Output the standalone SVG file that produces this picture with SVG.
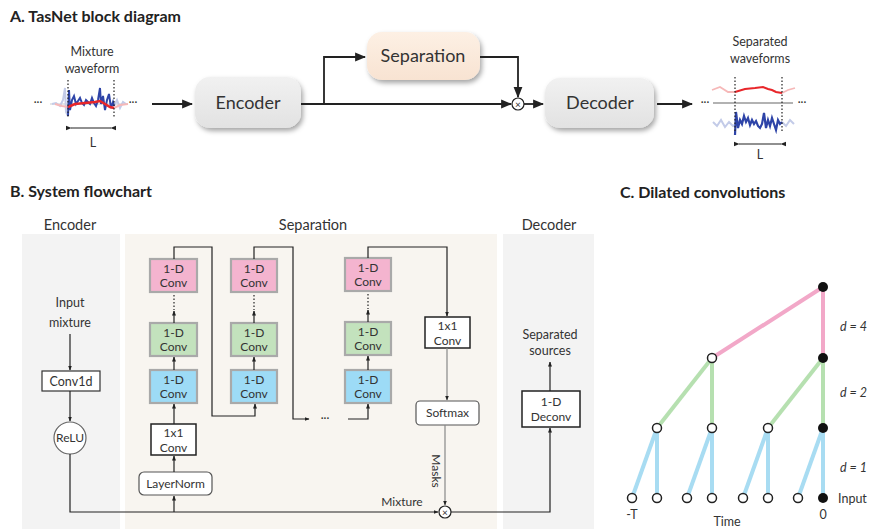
<svg xmlns="http://www.w3.org/2000/svg" width="871" height="529" viewBox="0 0 871 529">
<defs>
<marker id="ah" viewBox="0 0 10 10" refX="9" refY="5" markerWidth="7" markerHeight="7" orient="auto" markerUnits="userSpaceOnUse"><path d="M0,1 L10,5 L0,9 z" fill="#222"/></marker>
<marker id="ahs" viewBox="0 0 10 10" refX="9" refY="5" markerWidth="5" markerHeight="5" orient="auto" markerUnits="userSpaceOnUse"><path d="M0,1 L10,5 L0,9 z" fill="#222"/></marker>
<marker id="ahb" viewBox="0 0 10 10" refX="9" refY="5" markerWidth="11" markerHeight="11" orient="auto" markerUnits="userSpaceOnUse"><path d="M0,1 L10,5 L0,9 z" fill="#222"/></marker>
<marker id="ahd" viewBox="0 0 10 10" refX="1" refY="5" markerWidth="6" markerHeight="6" orient="auto-start-reverse" markerUnits="userSpaceOnUse"><path d="M0,5 L10,1 L10,9 z" fill="#222"/></marker>
<linearGradient id="gG" x1="0" y1="0" x2="0" y2="1"><stop offset="0" stop-color="#f1f1f1"/><stop offset="1" stop-color="#e2e2e2"/></linearGradient>
<linearGradient id="gP" x1="0" y1="0" x2="0" y2="1"><stop offset="0" stop-color="#fdf0e4"/><stop offset="1" stop-color="#f8e3d2"/></linearGradient>
<filter id="sh" x="-20%" y="-20%" width="150%" height="160%"><feDropShadow dx="2" dy="3" stdDeviation="2.5" flood-color="#000" flood-opacity="0.35"/></filter>
</defs>
<style>
text{font-family:Lato,"Open Sans",sans-serif;fill:#333}
.title{font-weight:bold;font-size:16px;fill:#222}
.big{font-size:18px;text-anchor:middle;fill:#333}
.lab{font-size:12.5px;text-anchor:middle}
.cv{font-size:12px;text-anchor:middle}
.sm{font-size:12px;text-anchor:middle}
.ln{stroke:#222;stroke-width:1.2;fill:none}
.lnA{stroke:#222;stroke-width:1.8;fill:none}
.conv{stroke:#a9a9a9;stroke-width:2.2}
.pink{fill:#f4b4cf}.green{fill:#c3e2bd}.blue{fill:#9ddbf6}
.wbox{fill:#fff;stroke:#222;stroke-width:1.5}
.dot{stroke:#222;stroke-width:1.2;stroke-dasharray:1.5 2}
.edgeB{stroke:#a8dcf2;stroke-width:4}
.edgeG{stroke:#b6e0b0;stroke-width:4}
.edgeP{stroke:#f2a8c8;stroke-width:4}
.on{fill:#fff;stroke:#222;stroke-width:1.5}
.fn{fill:#111}
.ital{font-style:italic;font-size:12.5px}
</style>

<!-- Part A -->
<text class="title" x="10" y="22">A. TasNet block diagram</text>
<g id="mixture-waveform">
<text class="lab" x="92" y="56">Mixture</text>
<text class="lab" x="92" y="73">waveform</text>
<text x="38" y="106" font-size="11" text-anchor="middle" fill="#444">···</text>
<text x="133" y="106" font-size="11" text-anchor="middle" fill="#444">···</text>
<line x1="50" y1="104" x2="128" y2="104" stroke="#ccc" stroke-width="1.2"/>
<polyline fill="none" stroke="#c3cbe8" stroke-width="2" points="52,104 56,103 60,106 63,100 65,88 66,112 68,116"/>
<polyline fill="none" stroke="#c3cbe8" stroke-width="2" points="114,106 117,100 120,108 123,102 126,104"/>
<polyline fill="none" stroke="#f6b8b8" stroke-width="2" points="55,104 62,106 68,107"/>
<polyline fill="none" stroke="#f6b8b8" stroke-width="2" points="114,108 120,105 128,104"/>
<polyline fill="none" stroke="#2e44a8" stroke-width="2" points="68,116 69,90 70,110 72,100 74,96 76,104 78,101 80,98 82,103 84,105 86,100 88,102 90,104 92,98 94,103 96,106 98,100 100,88 101,104 103,96 105,110 107,100 109,94 111,108 113,102 114,106"/>
<polyline fill="none" stroke="#e8262a" stroke-width="2.6" points="68,107 75,104 85,103 95,102 100,101 105,104 110,107 114,108"/>
<line class="dot" x1="68" y1="80" x2="68" y2="118"/>
<line class="dot" x1="114" y1="80" x2="114" y2="118"/>
<line x1="71" y1="128" x2="111" y2="128" stroke="#222" stroke-width="1.2" marker-start="url(#ahd)" marker-end="url(#ahd)"/>
<text class="lab" x="93" y="147" font-size="14">L</text>
</g>
<g id="encA">
<rect x="195" y="77" width="106" height="51" rx="15" fill="url(#gG)" filter="url(#sh)"/>
<text class="big" x="248" y="109">Encoder</text>
</g>
<g id="sepA">
<rect x="367" y="32" width="113" height="48" rx="15" fill="url(#gP)" filter="url(#sh)"/>
<text class="big" x="423" y="62">Separation</text>
</g>
<g id="mulA">
<circle cx="518" cy="104" r="6" fill="#fff" stroke="#222" stroke-width="1.2"/>
<text x="518" y="107.5" font-size="10" text-anchor="middle" fill="#222">×</text>
</g>
<g id="decA">
<rect x="545" y="78" width="109" height="50" rx="15" fill="url(#gG)" filter="url(#sh)"/>
<text class="big" x="600" y="109">Decoder</text>
</g>
<g id="sep-waveforms">
<text class="lab" x="760" y="46">Separated</text>
<text class="lab" x="760" y="63">waveforms</text>
<text x="705" y="106" font-size="11" text-anchor="middle" fill="#444">···</text>
<text x="802" y="106" font-size="11" text-anchor="middle" fill="#444">···</text>
<line x1="713" y1="103" x2="793" y2="103" stroke="#999" stroke-width="1.4"/>
<polyline fill="none" stroke="#f6b8b8" stroke-width="1.8" points="712,90 720,87 728,92 735,92"/>
<polyline fill="none" stroke="#f6b8b8" stroke-width="1.8" points="782,93 788,90 795,88"/>
<polyline fill="none" stroke="#e8262a" stroke-width="2" points="735,92 745,89 755,88 763,87 768,89 772,90 776,92 782,93"/>
<polyline fill="none" stroke="#c3cbe8" stroke-width="2" points="713,122 717,126 721,120 725,127 729,122 733,126 735,125"/>
<polyline fill="none" stroke="#c3cbe8" stroke-width="2" points="782,122 786,126 790,120 794,124"/>
<polyline fill="none" stroke="#2e44a8" stroke-width="2.2" points="735,135 736,112 738,128 740,120 742,124 744,116 746,122 748,118 750,125 752,120 754,124 756,121 758,126 760,128 762,124 764,113 766,128 768,120 770,126 772,118 774,124 776,130 778,120 780,124 782,122"/>
<line class="dot" x1="735" y1="77" x2="735" y2="131"/>
<line class="dot" x1="782" y1="77" x2="782" y2="131"/>
<line x1="739" y1="144" x2="781" y2="144" stroke="#222" stroke-width="1.2" marker-start="url(#ahd)" marker-end="url(#ahd)"/>
<text class="lab" x="760" y="159" font-size="14">L</text>
</g>
<g id="connectorsA">
<line class="lnA" x1="152" y1="104" x2="192" y2="104" marker-end="url(#ahb)"/>
<line class="lnA" x1="301" y1="104" x2="511" y2="104" marker-end="url(#ahb)"/>
<polyline class="lnA" points="324,104 324,57 365,57" marker-end="url(#ahb)"/>
<polyline class="lnA" points="480,57 518,57 518,97" marker-end="url(#ahb)"/>
<line class="lnA" x1="524" y1="104" x2="543" y2="104" marker-end="url(#ahb)"/>
<line class="lnA" x1="657" y1="104" x2="692" y2="104" marker-end="url(#ahb)"/>
</g>

<!-- Part B -->
<text class="title" x="10" y="197">B. System flowchart</text>
<g id="panels">
<rect x="22" y="234" width="98" height="295" fill="#f3f3f3"/>
<rect x="125" y="234" width="372" height="295" fill="#f8f5f0"/>
<rect x="503" y="234" width="91" height="295" fill="#f3f3f3"/>
<text x="70" y="230" font-size="14.5" text-anchor="middle">Encoder</text>
<text x="313" y="230" font-size="14.5" text-anchor="middle">Separation</text>
<text x="549" y="230" font-size="14.5" text-anchor="middle">Decoder</text>
</g>
<g id="input-mixture">
<text class="lab" x="70" y="307">Input</text>
<text class="lab" x="70" y="327">mixture</text>
</g>
<g id="conv1d">
<rect x="42" y="371" width="58" height="20" fill="#fff" stroke="#333" stroke-width="1.2"/>
<text x="71" y="385.5" font-family="'Liberation Mono','DejaVu Sans Mono',monospace" font-size="12.5" text-anchor="middle">Conv1d</text>
</g>
<g id="relu">
<circle cx="70" cy="438" r="16" fill="#fff" stroke="#666" stroke-width="1.2"/>
<text class="sm" x="70" y="442">ReLU</text>
</g>
<g id="c1pink"><rect class="conv pink" x="150" y="259" width="47" height="33"/><text class="cv" x="173.5" y="272.5">1-D</text><text class="cv" x="173.5" y="287">Conv</text></g>
<g id="c1green"><rect class="conv green" x="150" y="323" width="47" height="33"/><text class="cv" x="173.5" y="336.5">1-D</text><text class="cv" x="173.5" y="351">Conv</text></g>
<g id="c1blue"><rect class="conv blue" x="150" y="370" width="47" height="33"/><text class="cv" x="173.5" y="383.5">1-D</text><text class="cv" x="173.5" y="398">Conv</text></g>
<g id="c2pink"><rect class="conv pink" x="231" y="259" width="46" height="33"/><text class="cv" x="254" y="272.5">1-D</text><text class="cv" x="254" y="287">Conv</text></g>
<g id="c2green"><rect class="conv green" x="231" y="323" width="46" height="33"/><text class="cv" x="254" y="336.5">1-D</text><text class="cv" x="254" y="351">Conv</text></g>
<g id="c2blue"><rect class="conv blue" x="231" y="370" width="46" height="33"/><text class="cv" x="254" y="383.5">1-D</text><text class="cv" x="254" y="398">Conv</text></g>
<g id="c3pink"><rect class="conv pink" x="345" y="258" width="46" height="33"/><text class="cv" x="368" y="271.5">1-D</text><text class="cv" x="368" y="286">Conv</text></g>
<g id="c3green"><rect class="conv green" x="345" y="322" width="46" height="33"/><text class="cv" x="368" y="335.5">1-D</text><text class="cv" x="368" y="350">Conv</text></g>
<g id="c3blue"><rect class="conv blue" x="345" y="370" width="46" height="33"/><text class="cv" x="368" y="383.5">1-D</text><text class="cv" x="368" y="398">Conv</text></g>
<g id="conv1x1a"><rect class="wbox" x="151" y="424" width="45" height="31"/><text class="cv" x="173.5" y="437">1x1</text><text class="cv" x="173.5" y="451.5">Conv</text></g>
<g id="layernorm"><rect x="139" y="472" width="73" height="23" rx="5" fill="#fff" stroke="#555" stroke-width="1.2"/><text class="sm" x="175.5" y="488">LayerNorm</text></g>
<g id="conv1x1b"><rect class="wbox" x="425" y="317" width="45" height="31"/><text class="cv" x="447.5" y="330">1x1</text><text class="cv" x="447.5" y="344.5">Conv</text></g>
<g id="softmax"><rect x="416" y="401" width="63" height="24" rx="4" fill="#fff" stroke="#555" stroke-width="1.2"/><text class="sm" x="447.5" y="417">Softmax</text></g>
<g id="mulB">
<circle cx="445" cy="512" r="6" fill="#fff" stroke="#222" stroke-width="1.2"/>
<text x="445" y="515.5" font-size="10" text-anchor="middle" fill="#222">×</text>
</g>
<g id="deconv"><rect class="wbox" x="522" y="391" width="58" height="36" stroke-width="1.2"/><text class="cv" x="551" y="405.5">1-D</text><text class="cv" x="551" y="421">Deconv</text></g>
<g id="sep-sources">
<text class="lab" x="550" y="339">Separated</text>
<text class="lab" x="550" y="355">sources</text>
</g>
<g id="connectorsB">
<line class="ln" x1="70" y1="334" x2="70" y2="370" marker-end="url(#ahs)"/>
<line class="ln" x1="70" y1="391" x2="70" y2="421" marker-end="url(#ahs)"/>
<polyline class="ln" points="70,454 70,512 438,512" marker-end="url(#ahs)"/>
<line class="ln" x1="174" y1="512" x2="174" y2="496" marker-end="url(#ahs)"/>
<line class="ln" x1="174" y1="472" x2="174" y2="456" marker-end="url(#ahs)"/>
<line class="ln" x1="174" y1="424" x2="174" y2="404" marker-end="url(#ahs)"/>
<line class="ln" x1="174" y1="370" x2="174" y2="357" marker-end="url(#ahs)"/>
<line class="ln" x1="174" y1="323" x2="174" y2="311" marker-end="url(#ahs)"/>
<line class="dot" x1="174" y1="295" x2="174" y2="310"/>
<line class="ln" x1="254" y1="370" x2="254" y2="357" marker-end="url(#ahs)"/>
<line class="ln" x1="254" y1="323" x2="254" y2="311" marker-end="url(#ahs)"/>
<line class="dot" x1="254" y1="295" x2="254" y2="310"/>
<line class="ln" x1="368" y1="370" x2="368" y2="356" marker-end="url(#ahs)"/>
<line class="ln" x1="368" y1="322" x2="368" y2="310" marker-end="url(#ahs)"/>
<line class="dot" x1="368" y1="294" x2="368" y2="309"/>
<polyline class="ln" points="174,259 174,247 212,247 212,416 255,416 255,404" marker-end="url(#ahs)"/>
<polyline class="ln" points="254,259 254,247 293,247 293,419 309,419" marker-end="url(#ahs)"/>
<text x="325" y="422" font-size="11" text-anchor="middle" fill="#333">···</text>
<polyline class="ln" points="348,419 368,419 368,404" marker-end="url(#ahs)"/>
<polyline class="ln" points="368,258 368,247 447,247 447,316" marker-end="url(#ahs)"/>
<line x1="447" y1="348" x2="447" y2="400" stroke="#888" stroke-width="1.2" marker-end="url(#ahs)"/>
<line x1="445" y1="425" x2="445" y2="505" stroke="#888" stroke-width="1.2" marker-end="url(#ahs)"/>
<text class="sm" x="0" y="0" transform="translate(432,471) rotate(90)" font-size="11.5">Masks</text>
<text class="sm" x="402" y="506">Mixture</text>
<polyline class="ln" points="451,512 550,512 550,428" marker-end="url(#ahs)"/>
<line class="ln" x1="550" y1="391" x2="550" y2="362" marker-end="url(#ahs)"/>
</g>

<!-- Part C -->
<text class="title" x="620" y="198">C. Dilated convolutions</text>
<g id="edgesC">
<line class="edgeB" x1="632" y1="498" x2="657" y2="428"/>
<line class="edgeB" x1="657" y1="498" x2="657" y2="428"/>
<line class="edgeB" x1="687" y1="498" x2="712" y2="428"/>
<line class="edgeB" x1="712" y1="498" x2="712" y2="428"/>
<line class="edgeB" x1="743" y1="498" x2="768" y2="428"/>
<line class="edgeB" x1="768" y1="498" x2="768" y2="428"/>
<line class="edgeB" x1="798" y1="498" x2="823" y2="428"/>
<line class="edgeB" x1="823" y1="498" x2="823" y2="428"/>
<line class="edgeG" x1="657" y1="428" x2="712" y2="358"/>
<line class="edgeG" x1="712" y1="428" x2="712" y2="358"/>
<line class="edgeG" x1="768" y1="428" x2="823" y2="358"/>
<line class="edgeG" x1="823" y1="428" x2="823" y2="358"/>
<line class="edgeP" x1="712" y1="358" x2="823" y2="287"/>
<line class="edgeP" x1="823" y1="358" x2="823" y2="287"/>
</g>
<g id="nodesC">
<circle class="on" cx="632" cy="498" r="4.5"/>
<circle class="on" cx="657" cy="498" r="4.5"/>
<circle class="on" cx="687" cy="498" r="4.5"/>
<circle class="on" cx="712" cy="498" r="4.5"/>
<circle class="on" cx="743" cy="498" r="4.5"/>
<circle class="on" cx="768" cy="498" r="4.5"/>
<circle class="on" cx="798" cy="498" r="4.5"/>
<circle class="fn" cx="823" cy="498" r="5"/>
<circle class="on" cx="657" cy="428" r="4.5"/>
<circle class="on" cx="712" cy="428" r="4.5"/>
<circle class="on" cx="768" cy="428" r="4.5"/>
<circle class="fn" cx="823" cy="428" r="5"/>
<circle class="on" cx="712" cy="358" r="4.5"/>
<circle class="fn" cx="823" cy="358" r="5"/>
<circle class="fn" cx="823" cy="287" r="5"/>
</g>
<g id="labelsC">
<text class="ital" x="840" y="331">d = 4</text>
<text class="ital" x="840" y="397">d = 2</text>
<text class="ital" x="840" y="472">d = 1</text>
<text x="838" y="503" font-size="12.5">Input</text>
<text class="lab" x="632" y="519">-T</text>
<text class="lab" x="823" y="519">0</text>
<text class="lab" x="727" y="526">Time</text>
</g>
</svg>
